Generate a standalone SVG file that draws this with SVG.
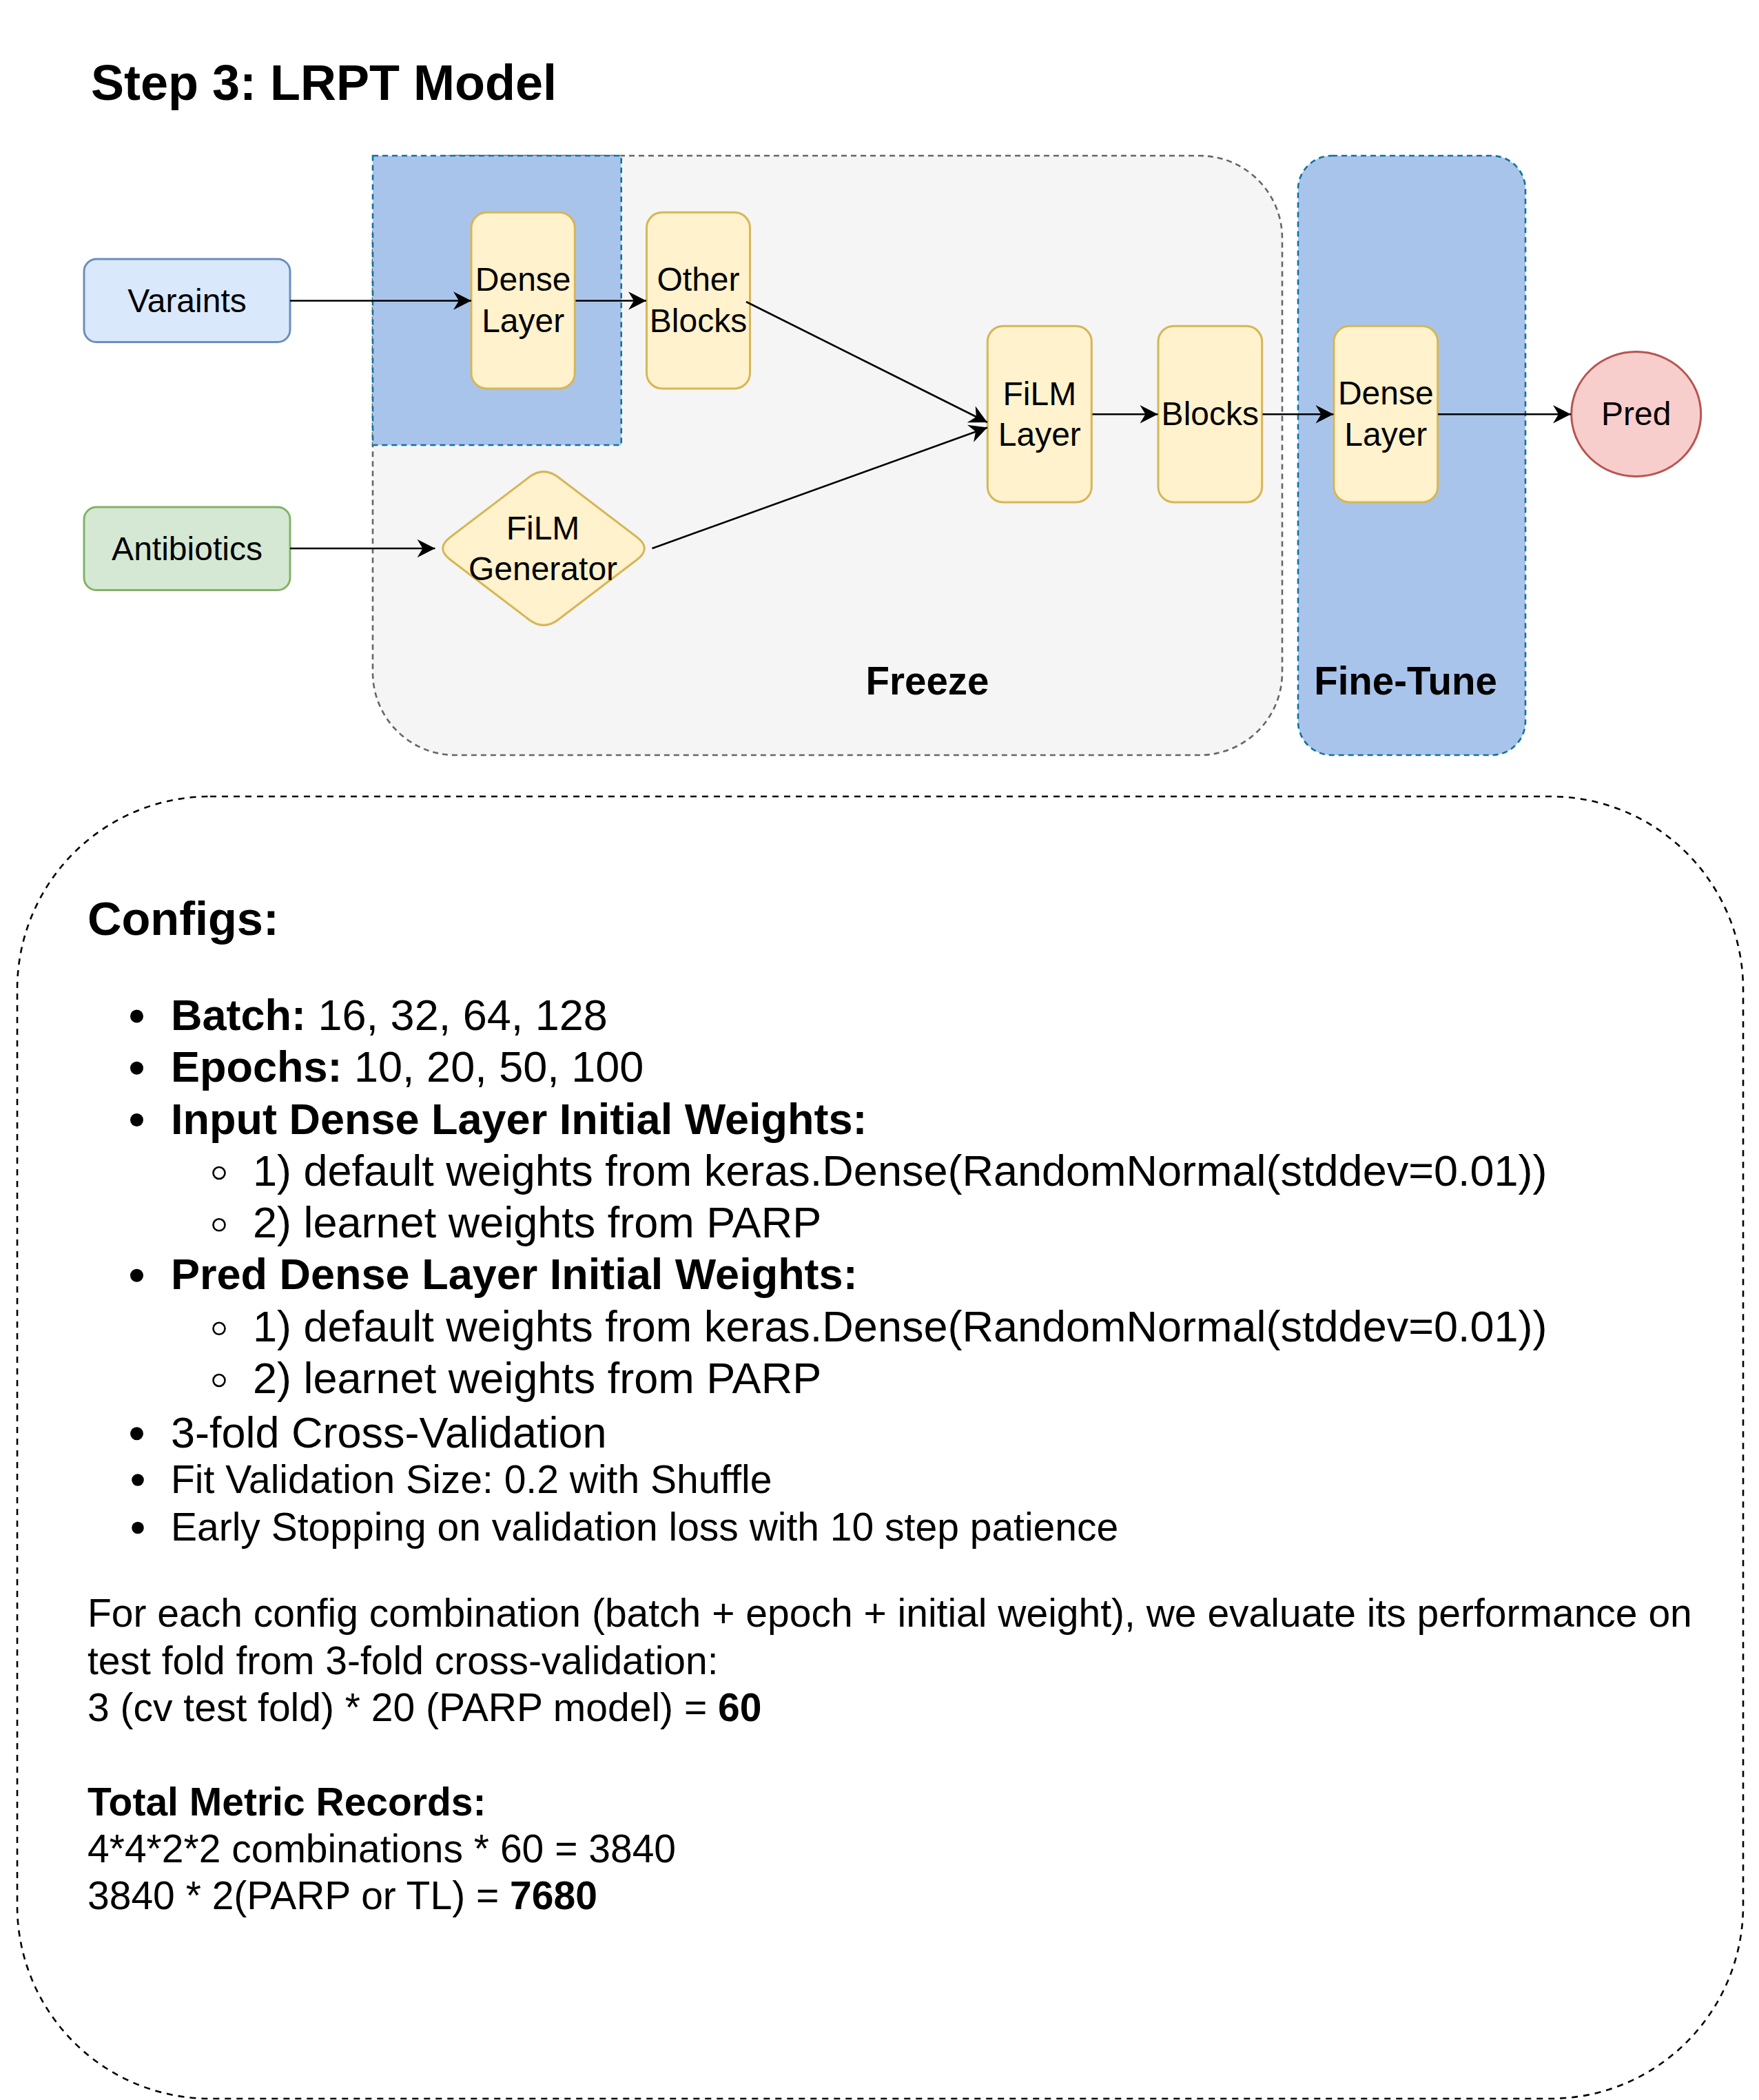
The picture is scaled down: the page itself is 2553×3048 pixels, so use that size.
<svg xmlns="http://www.w3.org/2000/svg" width="2553" height="3048" viewBox="0 0 2553 3048">
<style>
  text { font-family: "Liberation Sans", Arial, Helvetica, sans-serif; fill: #000; }
  .node { fill: #FFF2CC; stroke: #D6B656; stroke-width: 3; }
  .lbl { font-size: 48px; text-anchor: middle; }
  .edge { stroke: #000; stroke-width: 2.6; fill: none; marker-end: url(#arr); }
  .t62 { font-size: 63px; }
  .t56 { font-size: 57px; }
  .b { font-weight: bold; }
</style>
<defs>
  <marker id="arr" markerUnits="userSpaceOnUse" markerWidth="30" markerHeight="30" viewBox="-28 -15 30 30" refX="0" refY="0" orient="auto">
    <path d="M0,0 L-26,-13.3 L-18,0 L-26,13.3 Z" fill="#000" stroke="none"/>
  </marker>
</defs>
<rect width="2553" height="3048" fill="#FFFFFF"/>

<g id="title">
  <text x="132" y="144.5" font-size="72" font-weight="bold">Step 3: LRPT Model</text>
</g>

<g id="freeze-group">
  <rect x="541" y="226" width="1320" height="870" rx="120" ry="120" fill="#F5F5F5" stroke="#666666" stroke-width="2.6" stroke-dasharray="8 6"/>
  <text x="1346" y="1008" font-size="56.5" font-weight="bold" text-anchor="middle">Freeze</text>
</g>

<g id="input-dense-region">
  <rect x="541" y="226" width="360.7" height="420" fill="#A9C4EB" stroke="#10739E" stroke-width="2.6" stroke-dasharray="8 6"/>
</g>

<g id="fine-tune-group">
  <rect x="1884" y="226" width="330" height="870" rx="49" ry="49" fill="#A9C4EB" stroke="#10739E" stroke-width="2.6" stroke-dasharray="8 6"/>
  <text x="2040" y="1008" font-size="56.5" font-weight="bold" text-anchor="middle">Fine-Tune</text>
</g>

<g id="varaints">
  <rect x="122" y="376" width="299" height="120.5" rx="18" ry="18" fill="#DAE8FC" stroke="#6C8EBF" stroke-width="3"/>
  <text class="lbl" x="271.5" y="453">Varaints</text>
</g>

<g id="antibiotics">
  <rect x="122" y="736" width="299" height="120.5" rx="18" ry="18" fill="#D5E8D4" stroke="#82B366" stroke-width="3"/>
  <text class="lbl" x="271.5" y="813">Antibiotics</text>
</g>

<g id="dense-layer-1">
  <rect class="node" x="684" y="308.3" width="150.3" height="255.7" rx="22.5" ry="22.5"/>
  <text class="lbl" x="759.2" y="421.7">Dense</text>
  <text class="lbl" x="759.2" y="481.7">Layer</text>
</g>

<g id="other-blocks">
  <rect class="node" x="938.5" y="308.3" width="150" height="255.7" rx="22.5" ry="22.5"/>
  <text class="lbl" x="1013.5" y="421.7">Other</text>
  <text class="lbl" x="1013.5" y="481.7">Blocks</text>
</g>

<g id="film-generator">
  <path d="M767.6,692.8 Q789,676.5 810.4,692.8 L924.6,779.7 Q946,796 924.6,812.3 L810.4,899.2 Q789,915.5 767.6,899.2 L653.4,812.3 Q632,796 653.4,779.7 Z" fill="#FFF2CC" stroke="#D6B656" stroke-width="3"/>
  <text class="lbl" x="788" y="782.7">FiLM</text>
  <text class="lbl" x="788" y="841.7">Generator</text>
</g>

<g id="film-layer">
  <rect class="node" x="1433.3" y="473.3" width="151" height="255.7" rx="22.5" ry="22.5"/>
  <text class="lbl" x="1508.8" y="587.5">FiLM</text>
  <text class="lbl" x="1508.8" y="646.7">Layer</text>
</g>

<g id="blocks">
  <rect class="node" x="1681" y="473.3" width="150.7" height="255.7" rx="22.5" ry="22.5"/>
  <text class="lbl" x="1756.3" y="617.3">Blocks</text>
</g>

<g id="dense-layer-2">
  <rect class="node" x="1936" y="473.3" width="150.7" height="255.7" rx="22.5" ry="22.5"/>
  <text class="lbl" x="2011.3" y="587.3">Dense</text>
  <text class="lbl" x="2011.3" y="646.7">Layer</text>
</g>

<g id="pred">
  <ellipse cx="2374.7" cy="601" rx="94" ry="90.5" fill="#F8CECC" stroke="#B85450" stroke-width="3"/>
  <text class="lbl" x="2374.7" y="617.3">Pred</text>
</g>

<g id="connectors">
  <line class="edge" x1="421" y1="436.5" x2="684" y2="436.5"/>
  <line class="edge" x1="835.5" y1="436.5" x2="938" y2="436.5"/>
  <line class="edge" x1="421" y1="796" x2="631.5" y2="796"/>
  <line class="edge" x1="1083" y1="438" x2="1433" y2="613"/>
  <line class="edge" x1="946.5" y1="796" x2="1433" y2="620.5"/>
  <line class="edge" x1="1585.5" y1="601.3" x2="1680.5" y2="601.3"/>
  <line class="edge" x1="1832.5" y1="601.3" x2="1935.5" y2="601.3"/>
  <line class="edge" x1="2087" y1="601.3" x2="2280" y2="601.3"/>
</g>

<g id="configs">
  <rect x="25" y="1156" width="2505" height="1890" rx="280" ry="280" fill="none" stroke="#000" stroke-width="2.6" stroke-dasharray="9 8"/>
  <text x="127" y="1356.5" font-size="68.5" font-weight="bold">Configs:</text>

  <g fill="#000">
    <circle cx="198.5" cy="1475" r="9.5"/>
    <circle cx="198.5" cy="1550.2" r="9.5"/>
    <circle cx="198.5" cy="1625.5" r="9.5"/>
    <circle cx="198.5" cy="1851.2" r="9.5"/>
    <circle cx="198.5" cy="2080.7" r="9.5"/>
    <circle cx="200" cy="2148" r="8.8"/>
    <circle cx="200" cy="2217.5" r="8.8"/>
  </g>
  <g fill="none" stroke="#000" stroke-width="2.6">
    <circle cx="318" cy="1702.5" r="8.5"/>
    <circle cx="318" cy="1777.8" r="8.5"/>
    <circle cx="318" cy="1928.3" r="8.5"/>
    <circle cx="318" cy="2003.5" r="8.5"/>
  </g>

  <text class="t62" x="248" y="1495"><tspan class="b">Batch:</tspan> 16, 32, 64, 128</text>
  <text class="t62" x="248" y="1570.2"><tspan class="b">Epochs:</tspan> 10, 20, 50, 100</text>
  <text class="t62 b" x="248" y="1645.5">Input Dense Layer Initial Weights:</text>
  <text class="t62" x="367" y="1720.7">1) default weights from keras.Dense(RandomNormal(stddev=0.01))</text>
  <text class="t62" x="367" y="1796">2) learnet weights from PARP</text>
  <text class="t62 b" x="248" y="1871.2">Pred Dense Layer Initial Weights:</text>
  <text class="t62" x="367" y="1946.5">1) default weights from keras.Dense(RandomNormal(stddev=0.01))</text>
  <text class="t62" x="367" y="2021.7">2) learnet weights from PARP</text>
  <text class="t62" x="248" y="2100.7">3-fold Cross-Validation</text>
  <text class="t56" x="248" y="2166.7">Fit Validation Size: 0.2 with Shuffle</text>
  <text class="t56" x="248" y="2236">Early Stopping on validation loss with 10 step patience</text>

  <text class="t56" x="127" y="2361">For each config combination (batch + epoch + initial weight), we evaluate its performance on</text>
  <text class="t56" x="127" y="2429.5">test fold from 3-fold cross-validation:</text>
  <text class="t56" x="127" y="2498">3 (cv test fold) * 20 (PARP model) = <tspan class="b">60</tspan></text>
  <text class="t56 b" x="127" y="2635">Total Metric Records:</text>
  <text class="t56" x="127" y="2703">4*4*2*2 combinations * 60 = 3840</text>
  <text class="t56" x="127" y="2771">3840 * 2(PARP or TL) = <tspan class="b">7680</tspan></text>
</g>
</svg>
